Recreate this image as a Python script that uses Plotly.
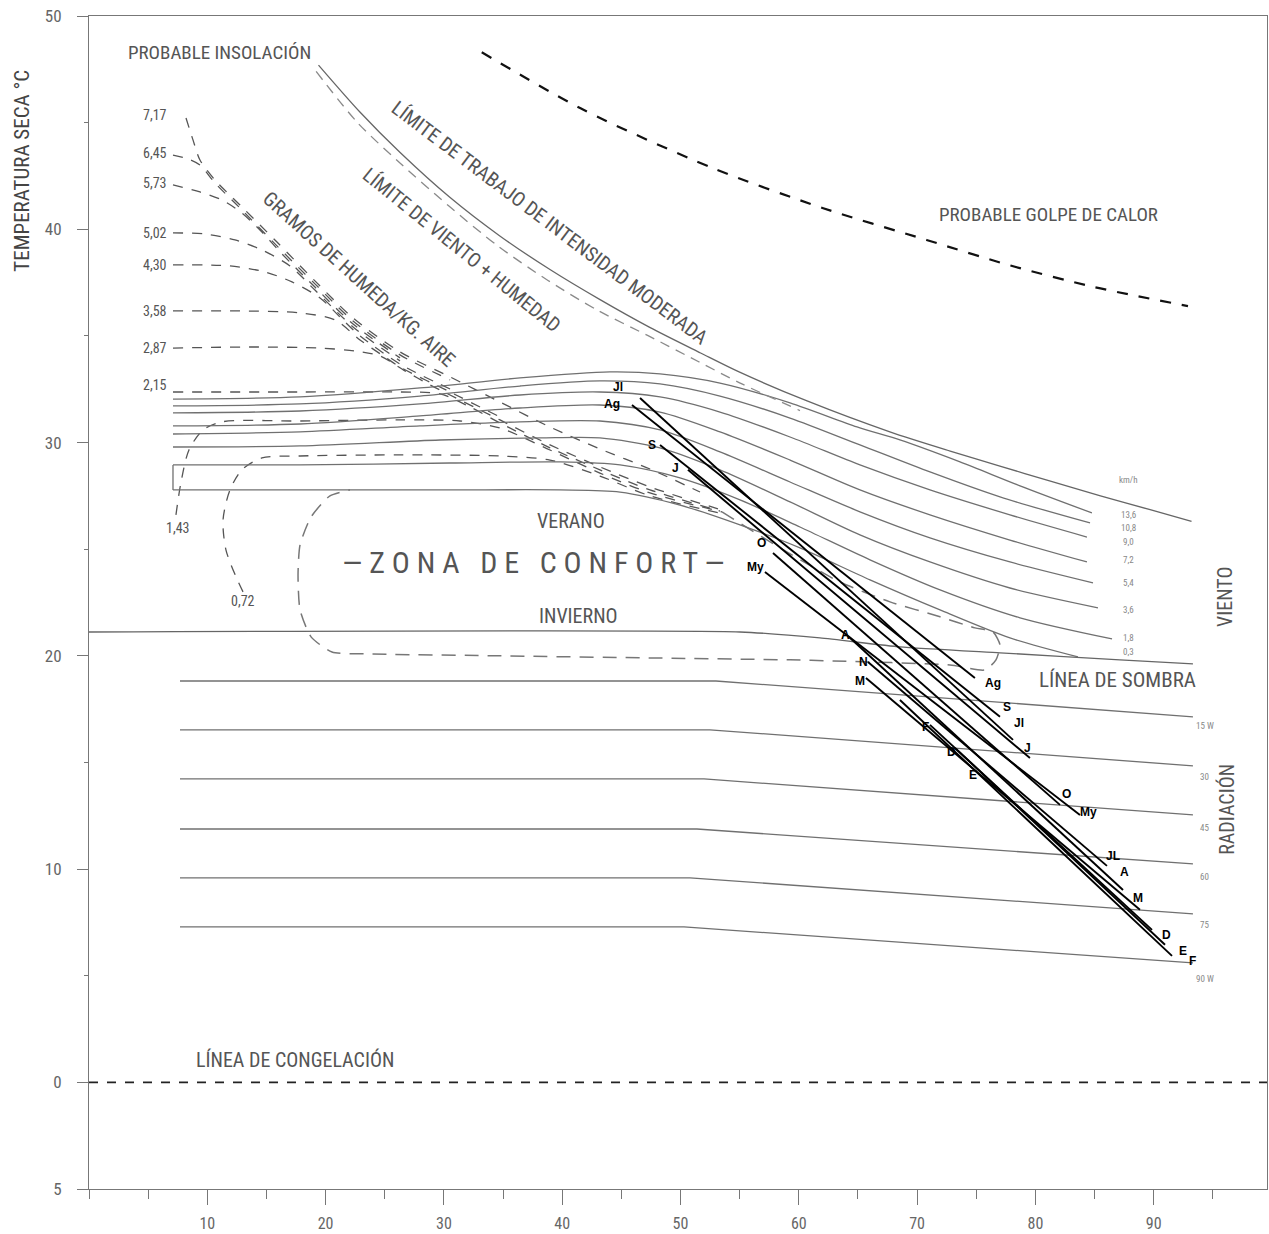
import plotly.graph_objects as go

NARROW = "Liberation Sans Narrow, Roboto Condensed, DejaVu Sans Condensed, Arial Narrow, Liberation Sans, sans-serif"
BOLD = "Liberation Sans, Arial, sans-serif"
GRAY_TXT = "#555555"

# ---------------- data (humedad relativa %, temperatura seca °C) ----------------
golpe_calor = [(33.2, 48.3), (41.8, 45.6), (52.6, 42.9), (62.0, 41.0), (70.8, 39.5),
               (77.9, 38.3), (84.9, 37.3), (92.9, 36.4)]

limite_trabajo = [(19.4, 47.7), (22.9, 45.5), (26.3, 43.6), (30.5, 41.5), (34.7, 39.7),
                  (39.0, 38.1), (43.2, 36.7), (47.4, 35.4), (51.7, 34.2), (55.0, 33.3),
                  (60.7, 31.95), (67.7, 30.5), (72.8, 29.6), (77.0, 28.9), (81.2, 28.2),
                  (85.5, 27.5), (89.7, 26.85), (93.2, 26.3)]

limite_viento = [(19.2, 47.4), (22.7, 45.0), (26.1, 43.2), (30.4, 41.1), (34.6, 39.2),
                 (38.8, 37.6), (43.0, 36.2), (47.3, 35.0), (51.5, 33.8), (55.0, 32.8),
                 (60.1, 31.5)]

# wind lines (km/h)
viento_136 = [(7.1, 32.04), (17.84, 32.14), (27.98, 32.56), (36.43, 33.03), (44.04, 33.31), (48.27, 33.22),
              (53.34, 32.79), (59.26, 31.86), (64.92, 30.73), (68.55, 30.12), (73.63, 29.09), (78.70, 27.97),
              (84.78, 26.70)]
viento_108 = [(7.1, 31.72), (17.84, 31.81), (27.98, 32.18), (36.43, 32.65), (43.19, 32.89), (48.27, 32.75),
              (53.34, 32.18), (59.26, 31.15), (65.17, 29.89), (71.09, 28.62), (77.01, 27.45), (84.62, 26.23)]
viento_90 = [(7.1, 31.39), (17.84, 31.48), (27.98, 31.81), (36.43, 32.23), (43.19, 32.37), (48.27, 32.14),
             (53.34, 31.43), (59.26, 30.26), (65.17, 28.95), (71.09, 27.78), (77.85, 26.61), (84.36, 25.57)]
viento_72 = [(7.1, 30.78), (17.84, 30.87), (27.98, 31.25), (36.43, 31.62), (43.19, 31.76), (48.27, 31.43),
             (53.34, 30.50), (59.26, 29.18), (65.17, 27.78), (71.09, 26.61), (77.85, 25.43), (84.36, 24.40)]
viento_54 = [(7.1, 30.40), (17.84, 30.50), (27.98, 30.78), (36.43, 30.97), (43.19, 31.01), (48.27, 30.59),
             (53.34, 29.56), (59.26, 28.15), (65.17, 26.75), (71.09, 25.53), (77.85, 24.40), (84.87, 23.42)]
viento_36 = [(7.1, 29.79), (17.84, 29.84), (29.67, 30.12), (38.12, 30.22), (43.19, 30.22), (48.27, 29.75),
             (53.34, 28.72), (59.26, 27.22), (65.17, 25.67), (71.09, 24.40), (77.85, 23.18), (85.29, 22.25)]
viento_18 = [(7.1, 28.95), (17.84, 28.95), (30.52, 29.04), (39.81, 29.09), (44.89, 28.95), (49.96, 28.34),
             (55.03, 27.31), (60.10, 26.04), (66.02, 24.50), (71.94, 23.09), (78.70, 21.78), (86.48, 20.79)]
viento_03 = [(7.1, 27.78), (17.84, 27.78), (30.52, 27.78), (39.81, 27.78), (44.89, 27.68), (49.96, 27.07),
             (55.03, 26.14), (60.10, 25.06), (66.02, 23.56), (71.94, 22.15), (77.85, 20.84), (83.60, 19.95)]
cierre_izq = [(7.1, 28.95), (7.1, 27.78)]

viento_labels = ["km/h", "13,6", "10,8", "9,0", "7,2", "5,4", "3,6", "1,8", "0,3"]
viento_label_t = [28.25, 26.61, 26.00, 25.34, 24.50, 23.42, 22.15, 20.84, 20.18]

linea_sombra = [(0, 21.12), (55.03, 21.12), (61.79, 20.84), (68.55, 20.42), (77.01, 20.14),
                (87.15, 19.81), (93.32, 19.62)]

# radiation lines (W)
rad_15 = [(7.69, 18.82), (53.00, 18.82), (93.32, 17.14)]
rad_30 = [(7.69, 16.53), (52.49, 16.53), (93.32, 14.84)]
rad_45 = [(7.69, 14.23), (51.99, 14.23), (93.32, 12.54)]
rad_60 = [(7.69, 11.88), (51.39, 11.88), (93.32, 10.24)]
rad_75 = [(7.69, 9.59), (50.80, 9.59), (93.32, 7.90)]
rad_90 = [(7.69, 7.29), (50.30, 7.29), (93.32, 5.60)]
rad_labels = ["15 W", "30", "45", "60", "75", "90 W"]
rad_label_t = [16.71, 14.32, 11.93, 9.63, 7.38, 4.85]

# extended comfort zone (dashed outline)
confort_ext = [(53.51, 26.75), (58.41, 25.06), (63.48, 23.46), (67.71, 22.53), (71.94, 21.83),
               (74.89, 21.31), (76.42, 21.12), (77.01, 20.51), (76.67, 19.81), (75.74, 19.34),
               (72.78, 19.57), (62.89, 19.76), (59.26, 19.81), (47.42, 19.90), (34.74, 20.00),
               (23.58, 20.09), (20.54, 20.18), (18.77, 20.89), (17.84, 22.15), (17.67, 23.79),
               (17.84, 25.20), (18.77, 26.51), (20.37, 27.50), (22.06, 27.78)]

congelacion = [(0, 0), (99.6, 0)]

# moisture curves (gramos de humedad / kg aire)
hum_717 = [(8.20, 45.22), (8.79, 44.19), (9.38, 43.25), (10.65, 42.31), (12.76, 41.14), (15.89, 39.40),
           (19.10, 37.58), (22.32, 35.84), (26.29, 34.25), (30.52, 33.08), (34.74, 31.90), (38.97, 30.73),
           (43.19, 29.70), (47.42, 28.76), (51.65, 27.68)]
hum_645 = [(7.10, 43.48), (8.37, 43.30), (9.38, 43.01), (10.65, 42.17), (12.76, 41.00), (15.89, 39.22),
           (19.10, 37.44), (22.32, 35.70), (26.29, 34.11), (30.52, 32.94)]
hum_573 = [(7.10, 42.08), (9.38, 41.75), (11.24, 41.37), (12.93, 40.76), (14.62, 39.87), (16.15, 38.94),
           (19.10, 37.29), (22.32, 35.56), (26.29, 33.97)]
hum_502 = [(7.10, 39.83), (9.81, 39.78), (12.34, 39.50), (14.62, 39.03), (16.99, 38.28), (19.10, 37.15),
           (22.32, 35.42), (26.29, 33.83)]
hum_430 = [(7.10, 38.33), (11.92, 38.28), (14.88, 38.00), (17.16, 37.53), (19.53, 36.78), (21.64, 35.65),
           (22.91, 35.00), (26.29, 33.68), (30.52, 32.51)]
hum_358 = [(7.10, 36.17), (12.76, 36.17), (17.84, 36.08), (20.79, 35.75), (22.91, 34.81), (25.02, 34.01),
           (26.29, 33.54), (30.52, 32.37), (34.74, 31.20)]
hum_287 = [(7.10, 34.43), (13.61, 34.48), (19.53, 34.43), (22.49, 34.29), (24.60, 34.06), (26.71, 33.36),
           (28.83, 32.70), (30.52, 32.23), (34.74, 31.06), (38.97, 29.89), (43.19, 28.86), (47.42, 27.92),
           (53.17, 26.89)]
hum_215 = [(7.10, 32.37), (17.84, 32.37), (26.29, 32.37), (29.67, 32.28), (32.21, 31.67), (34.74, 30.92),
           (38.97, 29.75), (43.19, 28.72), (47.42, 27.78), (53.34, 26.79)]
hum_143 = [(7.35, 26.61), (7.78, 28.15), (8.45, 29.65), (9.64, 30.59), (11.24, 30.97), (17.84, 31.01),
           (26.29, 31.06), (31.36, 31.01), (34.74, 30.68), (38.97, 29.65), (43.19, 28.57), (47.42, 27.64),
           (53.51, 26.75)]
hum_072 = [(13.02, 23.00), (12.43, 23.70), (11.58, 24.96), (11.33, 26.37), (11.92, 27.78), (12.93, 28.72),
           (14.62, 29.28), (17.84, 29.37), (26.29, 29.42), (34.74, 29.37), (38.97, 29.18), (43.19, 28.43),
           (47.42, 27.50), (53.68, 26.65)]
hum_labels = ["7,17", "6,45", "5,73", "5,02", "4,30", "3,58", "2,87", "2,15"]
hum_label_t = [45.36, 43.58, 42.17, 39.83, 38.33, 36.17, 34.43, 32.70]

# monthly lines: start (RH, T) -> end (RH, T)
meses = ["Jl", "Ag", "S", "J", "O", "My", "A", "N", "M", "F", "D", "E"]
mes_ini_rh = [46.58, 45.90, 48.27, 50.63, 57.82, 57.14, 64.16, 65.85, 65.68, 68.55, 71.09, 73.20]
mes_ini_t = [32.09, 31.76, 29.89, 28.72, 24.82, 23.93, 20.93, 19.71, 18.96, 17.93, 16.76, 15.68]
mes_fin_rh = [78.11, 74.89, 77.01, 79.54, 82.08, 83.77, 87.41, 86.05, 88.84, 91.55, 89.86, 90.96]
mes_fin_t = [16.06, 18.96, 17.14, 15.21, 13.01, 12.54, 9.02, 10.15, 8.09, 5.93, 7.15, 6.45]

lab_sup = ["Jl", "Ag", "S", "J", "O", "My", "A", "N", "M", "F", "D", "E"]
lab_sup_rh = [44.72, 44.21, 47.59, 49.62, 56.89, 56.30, 63.91, 65.43, 65.17, 70.67, 72.87, 74.73]
lab_sup_t = [32.61, 31.81, 29.89, 28.81, 25.29, 24.17, 20.98, 19.71, 18.82, 16.67, 15.49, 14.42]
lab_inf = ["Ag", "S", "Jl", "J", "O", "My", "JL", "A", "M", "D", "E", "F"]
lab_inf_rh = [76.42, 77.60, 78.61, 79.37, 82.67, 84.45, 86.56, 87.57, 88.67, 91.12, 92.48, 93.30]
lab_inf_t = [18.73, 17.60, 16.85, 15.68, 13.53, 12.68, 10.62, 9.87, 8.65, 6.92, 6.17, 5.70]

x_ticks = [10, 20, 30, 40, 50, 60, 70, 80, 90]
y_ticks = [-5, 0, 10, 20, 30, 40, 50]
y_ticktext = ["5", "0", "10", "20", "30", "40", "50"]

# ---------------- figure ----------------
fig = go.Figure()


def add_line(pts, color, width, dash="solid", spline=True, smooth=0.8):
    fig.add_trace(go.Scatter(
        x=[p[0] for p in pts], y=[p[1] for p in pts], mode="lines",
        line=dict(color=color, width=width, dash=dash,
                  shape="spline" if spline else "linear", smoothing=smooth if spline else None),
        hoverinfo="skip", showlegend=False))


# moisture curves
for c in [hum_717, hum_645, hum_573, hum_502, hum_430, hum_358, hum_287, hum_215, hum_143, hum_072]:
    add_line(c, "#555555", 1.3, dash="10px,9px")

# extended comfort outline
add_line(confort_ext, "#777777", 1.5, dash="14px,9px", smooth=0.6)

# wind lines
for c in [viento_136, viento_108, viento_90, viento_72, viento_54, viento_36, viento_18, viento_03]:
    add_line(c, "#707070", 1.3)
add_line(cierre_izq, "#707070", 1.3, spline=False)

# limits
add_line(limite_viento, "#8a8a8a", 1.3, dash="10px,7px")
add_line(limite_trabajo, "#666666", 1.3)
add_line(golpe_calor, "#111111", 2.2, dash="11px,11px")

# sombra + radiation
add_line(linea_sombra, "#666666", 1.4, smooth=0.5)
for c in [rad_15, rad_30, rad_45, rad_60, rad_75, rad_90]:
    add_line(c, "#707070", 1.3, spline=False)

# frost line
add_line(congelacion, "#222222", 1.6, dash="9px,9px", spline=False)

# monthly lines
for i in range(len(meses)):
    add_line([(mes_ini_rh[i], mes_ini_t[i]), (mes_fin_rh[i], mes_fin_t[i])], "#000000", 1.9, spline=False)

ann = []


def txt(s, x, y, size, color=GRAY_TXT, angle=0, family=NARROW, xanchor="center", yanchor="middle",
        xref="x", yref="y"):
    ann.append(dict(text=s, x=x, y=y, xref=xref, yref=yref, showarrow=False, textangle=angle,
                    font=dict(family=family, size=size, color=color), xanchor=xanchor, yanchor=yanchor))


for s, t in zip(hum_labels, hum_label_t):
    txt(s, 6.76, t, 14, xanchor="right")
txt("1,43", 7.52, 26.0, 14)
txt("0,72", 13.02, 22.57, 14)

for s, t in zip(viento_labels, viento_label_t):
    txt(s, 87.83, t, 9, color="#888888")
for s, t in zip(rad_labels, rad_label_t):
    txt(s, 94.3, t, 9, color="#888888")

for s, x, y in zip(lab_sup, lab_sup_rh, lab_sup_t):
    txt("<b>%s</b>" % s, x, y, 12, color="#000000", family=BOLD)
for s, x, y in zip(lab_inf, lab_inf_rh, lab_inf_t):
    txt("<b>%s</b>" % s, x, y, 12, color="#000000", family=BOLD)

txt("PROBABLE INSOLACIÓN", 10.99, 48.31, 19)
txt("PROBABLE GOLPE DE CALOR", 81.07, 40.67, 19)
txt("LÍMITE DE TRABAJO DE INTENSIDAD MODERADA", 39.0, 40.3, 20, angle=37)
txt("LÍMITE DE VIENTO + HUMEDAD", 31.53, 39.03, 20, angle=39)
txt("GRAMOS DE HUMEDA/KG. AIRE", 22.82, 37.67, 20, angle=42)
txt("VERANO", 40.74, 26.32, 20)
txt("INVIERNO", 41.42, 21.87, 20)
txt("— Z O N A   D E   C O N F O R T —", 37.6, 24.36, 30)
txt("LÍNEA DE SOMBRA", 86.90, 18.87, 21)
txt("LÍNEA DE CONGELACIÓN", 17.41, 1.05, 20)
txt("VIENTO", 96.03, 22.76, 20, angle=-90)
txt("RADIACIÓN", 96.20, 12.78, 20, angle=-90)
txt("TEMPERATURA SECA °C", -0.057, 0.868, 21, angle=-90, color="#444444", xref="paper", yref="paper")

fig.update_layout(
    width=1269, height=1234,
    margin=dict(l=89, r=2, t=16, b=45, autoexpand=False),
    paper_bgcolor="white", plot_bgcolor="white",
    showlegend=False, annotations=ann,
    xaxis=dict(range=[0, 99.58], showgrid=False, zeroline=False, showline=True, linecolor="#777777",
               linewidth=1, mirror=True, ticks="outside", ticklen=15, tickcolor="#777777",
               tickvals=x_ticks, ticktext=[str(v) for v in x_ticks], ticklabelstandoff=5,
               automargin=False,
               tickfont=dict(family=NARROW, size=16, color="#666666"),
               minor=dict(dtick=5, tick0=0, ticks="outside", ticklen=9, tickcolor="#777777")),
    yaxis=dict(range=[-5, 50], showgrid=False, zeroline=False, showline=True, linecolor="#777777",
               linewidth=1, mirror=True, ticks="outside", ticklen=11, tickcolor="#777777",
               tickvals=y_ticks, ticktext=y_ticktext, ticklabelstandoff=12,
               automargin=False,
               tickfont=dict(family=NARROW, size=17, color="#666666"),
               minor=dict(dtick=5, tick0=0, ticks="outside", ticklen=4, tickcolor="#777777")),
)

# remove the default page margin so the 1269x1234 figure fills the window exactly
fig.write_html("out.html", config={"displayModeBar": False},
               post_script="document.body.style.margin='0';document.body.style.overflow='hidden';")
